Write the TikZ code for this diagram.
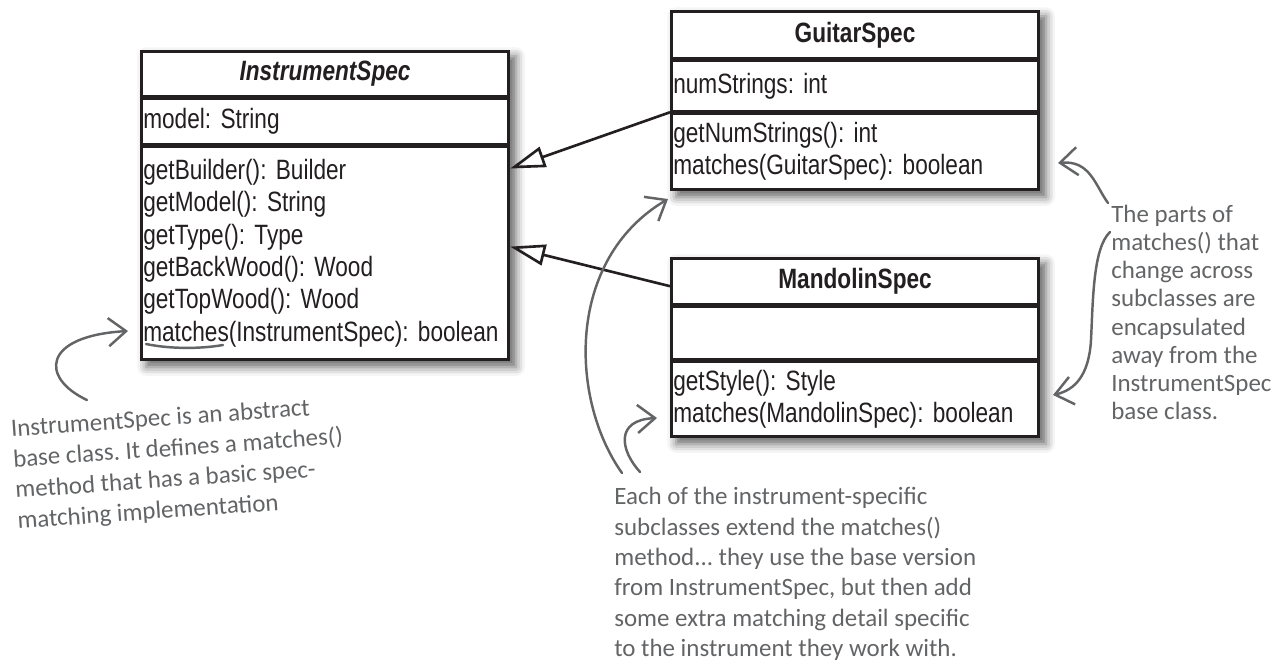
\documentclass[tikz,border=0pt]{standalone}
\usepackage{fontspec}
\setmainfont{Liberation Sans}[FakeStretch=0.81]
\newfontfamily\notefont{Carlito}
\frenchspacing
\usetikzlibrary{arrows.meta, positioning, calc, fit, backgrounds, shadows.blur}
\definecolor{cink}{HTML}{231F20}
\definecolor{cpen}{HTML}{636466}
\tikzset{
  every picture/.style={line width=1.5pt},
  umlbox/.style={draw=cink, fill=white, line width=1.5pt, anchor=north west, text=cink, text width=7.27cm, inner xsep=0.04cm, inner ysep=0pt, minimum height=#1, align=left, font=\fontsize{15.9}{18.4}\selectfont},
  umltitle/.style={umlbox=#1, align=center, font=\fontsize{15.9}{18.4}\selectfont\bfseries},
  shade box/.style={fill=white, inner sep=0pt, blur shadow={shadow xshift=3.5pt, shadow yshift=-3.5pt, shadow blur radius=5pt, shadow opacity=60}},
  inherit/.style={draw=cink, line width=1.5pt, -{Triangle[open, length=20pt, width=12pt]}},
  penline/.style={draw=cpen, line width=1.4pt, line cap=round},
  pen/.style={penline, -{Straight Barb[length=10pt, width=16pt]}},
  note/.style={font=\notefont\fontsize{14.2}{#1}\selectfont, text=cpen, align=left, anchor=north west, inner sep=0pt},
  note/.default=17.3,
}
\begin{document}
\begin{tikzpicture}[x=0.02cm, y=-0.02cm]
  \useasboundingbox (0,0) rectangle (1281,667);
  % InstrumentSpec
  \node[umltitle=0.9cm] (is) at (140,50) {\itshape InstrumentSpec};
  \node[umlbox=0.9cm, below=0pt of is] (isa) {model: String};
  \node[umlbox=4.26cm, below=0pt of isa] (ism) {getBuilder(): Builder\\getModel(): String\\getType(): Type\\getBackWood(): Wood\\getTopWood(): Wood\\matches(InstrumentSpec): boolean};
  % GuitarSpec
  \node[umltitle=0.94cm] (gs) at (670,10) {GuitarSpec};
  \node[umlbox=1cm, below=0pt of gs] (gsa) {numStrings: int};
  \node[umlbox=1.52cm, below=0pt of gsa] (gsm) {getNumStrings(): int\\matches(GuitarSpec): boolean};
  % MandolinSpec
  \node[umltitle=0.92cm] (ms) at (670,257) {MandolinSpec};
  \node[umlbox=1.04cm, below=0pt of ms] (msa) {};
  \node[umlbox=1.5cm, below=0pt of msa] (msm) {getStyle(): Style\\matches(MandolinSpec): boolean};
  \begin{scope}[on background layer]
    \foreach \a/\b in {is/ism, gs/gsm, ms/msm} \node[shade box, fit=(\a)(\b)] {};
  \end{scope}
  % inheritance
  \draw[inherit] (gsa.south west) -- ($(ism.north east)!0.108!(ism.south east)$);
  \draw[inherit] ($(ms.north west)!0.6!(ms.south west)$) -- ($(ism.north east)!0.47!(ism.south east)$);
  % notes
  \node[note=17.5, rotate=4] (n1) at (9,418) {InstrumentSpec is an abstract\\base class. It defines a matches()\\method that has a basic spec-\\matching implementation};
  \node[note] (n2) at (613,486) {Each of the instrument-specific\\subclasses extend the matches()\\method... they use the base version\\from InstrumentSpec, but then add\\some extra matching detail specific\\to the instrument they work with.};
  \node[note=16] (n3) at (1110,204) {The parts of\\matches() that\\change across\\subclasses are\\encapsulated\\away from the\\InstrumentSpec\\base class.};
  % pen marks
  \coordinate (t1) at (87,400);  \coordinate (h1) at (128,331);
  \coordinate (t2) at (622,473); \coordinate (h2) at (668,199);
  \coordinate (t3) at (640,472); \coordinate (h3) at (657,418);
  \coordinate (t4) at (1108,203); \coordinate (h4) at (1058,163);
  \coordinate (t5) at (1110,232); \coordinate (h5) at (1053,395);
  \draw[penline] (146,344) .. controls (170,349) and (200,349) .. (223,345);
  \draw[pen] (t1) .. controls (40,378) and (42,336) .. (h1);
  \draw[pen] (t2) .. controls (570,400) and (565,260) .. (h2);
  \draw[pen] (t3) .. controls (620,450) and (615,420) .. (h3);
  \draw[pen] (t4) .. controls (1095,185) and (1090,160) .. (h4);
  \draw[pen] (t5) .. controls (1093,248) and (1093,300) .. (1091,340) .. controls (1089,375) and (1075,390) .. (h5);
\end{tikzpicture}
\end{document}
